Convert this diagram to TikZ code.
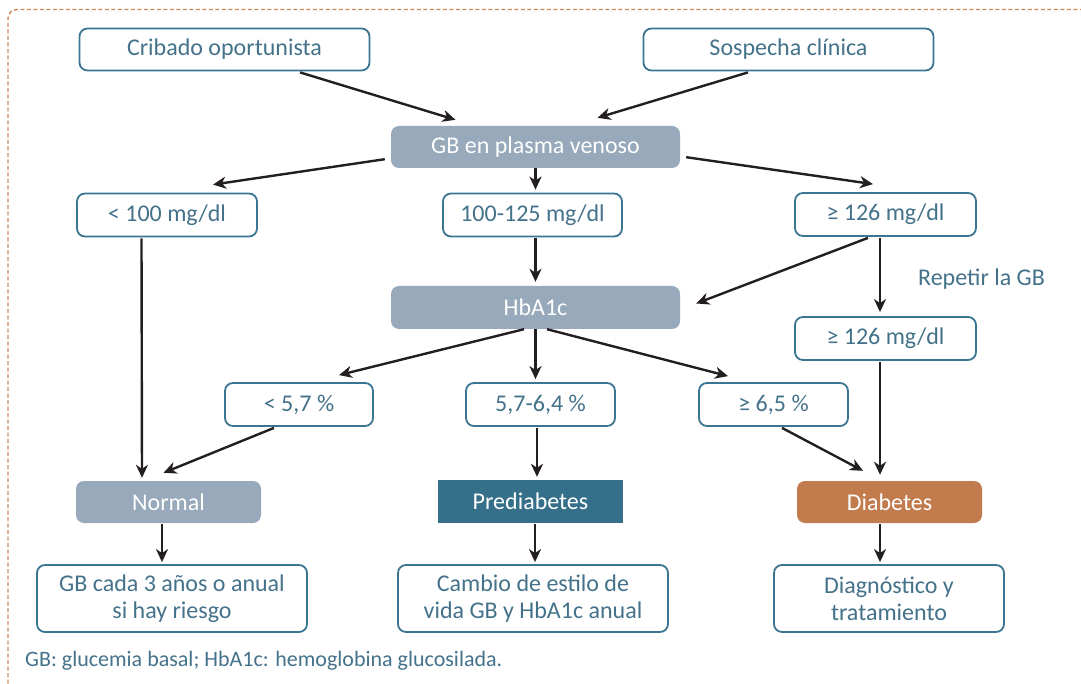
\documentclass[tikz,border=0pt]{standalone}
\usepackage{fontspec}
\setmainfont{Carlito}
\usetikzlibrary{arrows.meta,calc}
\definecolor{cbord}{HTML}{3B7592}
\definecolor{ctext}{HTML}{44728A}
\definecolor{cgray}{HTML}{97A9BA}
\definecolor{cpre}{HTML}{356F89}
\definecolor{cdia}{HTML}{C17B4D}
\definecolor{cdash}{HTML}{CF8A5C}
\definecolor{carrow}{HTML}{231F20}
\begin{document}
\begin{tikzpicture}[x=1pt,y=-1pt,
  base/.style={inner sep=0pt,align=center,font=\fontsize{24}{27}\selectfont},
  box/.style={base,draw=cbord,line width=1.8pt,rounded corners=8pt,fill=white,text=ctext},
  gbox/.style={base,fill=cgray,rounded corners=8pt,text=white},
  pbox/.style={base,fill=cpre,text=white},
  dbox/.style={base,fill=cdia,rounded corners=8pt,text=white},
  arr/.style={draw=carrow,line width=2.4pt,-{Stealth[length=13pt,width=12pt,inset=4pt]}},
  note/.style={text=ctext,inner sep=0pt}]
\useasboundingbox (0,0) rectangle (1081,684);
\draw[cdash,line width=1.4pt,dash pattern=on 4pt off 2.5pt,rounded corners=9pt] (8,690) -- (8,9.5) -- (1090,9.5);

% top
\node[box,minimum width=290pt,minimum height=42pt] (crib) at (224.5,49.5) {Cribado oportunista};
\node[box,minimum width=290pt,minimum height=42pt] (sosp) at (788.5,49.5) {Sospecha clínica};
\node[gbox,minimum width=289pt,minimum height=42pt] (gb) at (535.5,147) {GB en plasma venoso};
% level 2
\node[box,minimum width=180pt,minimum height=43pt] (lt100) at (167,215) {< 100 mg/dl};
\node[box,minimum width=179pt,minimum height=43pt] (mid) at (532.5,215) {100-125 mg/dl};
\node[box,minimum width=181pt,minimum height=43pt] (ge1) at (885.5,214.5) {≥ 126 mg/dl};
\node[gbox,minimum width=289pt,minimum height=43pt] (hba) at (535.5,307.5) {HbA1c};
\node[box,minimum width=181pt,minimum height=43pt] (ge2) at (885.5,338.5) {≥ 126 mg/dl};
\node[note,font=\fontsize{24}{27}\selectfont] (rep) at (981.5,279) {Repetir la GB};
% level 3
\node[box,minimum width=148pt,minimum height=43pt] (lt57) at (299,404.5) {< 5,7 \%};
\node[box,minimum width=149pt,minimum height=43pt] (m57) at (540.5,404.5) {5,7-6,4 \%};
\node[box,minimum width=149pt,minimum height=43pt] (ge65) at (773.5,404.5) {≥ 6,5 \%};
% results
\node[gbox,minimum width=185pt,minimum height=42pt] (norm) at (168.5,502) {Normal};
\node[pbox,minimum width=185pt,minimum height=43pt] (pre) at (530.5,501.5) {Prediabetes};
\node[dbox,minimum width=185pt,minimum height=42pt] (diab) at (889.5,502) {Diabetes};
% bottom
\node[box,minimum width=270pt,minimum height=67pt] (gbc) at (172,598.5) {GB cada 3 años o anual\\si hay riesgo};
\node[box,minimum width=270pt,minimum height=67pt] (camb) at (533,598.5) {Cambio de estilo de\\vida GB y HbA1c anual};
\node[box,minimum width=230pt,minimum height=67pt] (diag) at (889,598.5) {Diagnóstico y\\tratamiento};
\node[note,anchor=west,font=\fontsize{22}{24}\selectfont] (foot) at (25,661) {GB: glucemia basal; HbA1c: hemoglobina glucosilada.};

% arrows
\draw[arr] ($(crib.south)+(75.5,1)$) -- ($(gb.north)+(-80,-6)$);
\draw[arr] ($(sosp.south)+(-40.5,1)$) -- ($(gb.north)+(62,-8)$);
\draw[arr] ($(gb.south west)+(-6,-9)$) -- ($(lt100.north)+(46,-8)$);
\draw[arr] (gb.south) -- ($(gb.south |- mid.north)+(0,-3)$);
\draw[arr] ($(gb.south east)+(6,-11)$) -- ($(ge1.north)+(-12.5,-8)$);
\draw[arr] ($(mid.south)+(3,1)$) -- ($(hba.north)+(0,-4)$);
\draw[arr] ($(ge1.south)+(-17.5,1)$) -- ($(hba.east)+(16,-4)$);
\draw[arr] ($(ge1.south)+(-5.5,1)$) -- ($(ge2.north)+(-5.5,-4)$);
\draw[arr] ($(lt100.south)+(-25.5,1)$) -- ($(norm.north)+(-26.5,-3)$);
\draw[arr] ($(hba.south)+(-11.5,0)$) -- ($(lt57.north)+(40,-7)$);
\draw[arr] (hba.south) -- ($(m57.north)+(-5,-3)$);
\draw[arr] ($(hba.south)+(11.5,0)$) -- ($(ge65.north)+(-45.5,-6)$);
\draw[arr] ($(lt57.south)+(-25,1)$) -- ($(norm.north)+(-5,-8)$);
\draw[arr] ($(m57.south)+(-3.5,1)$) -- ($(pre.north)+(6.5,-3)$);
\draw[arr] ($(ge65.south)+(8.5,1)$) -- ($(diab.north)+(-26.5,-10)$);
\draw[arr] ($(ge2.south)+(-5.5,1)$) -- ($(diab.north)+(-9.5,-6)$);
\draw[arr] ($(norm.south)+(-6.5,1)$) -- ($(gbc.north)+(-10,-2)$);
\draw[arr] ($(pre.south)+(4.5,1)$) -- ($(camb.north)+(2,-2)$);
\draw[arr] ($(diab.south)+(-9.5,1)$) -- ($(diag.north)+(-9,-2)$);
\end{tikzpicture}
\end{document}
